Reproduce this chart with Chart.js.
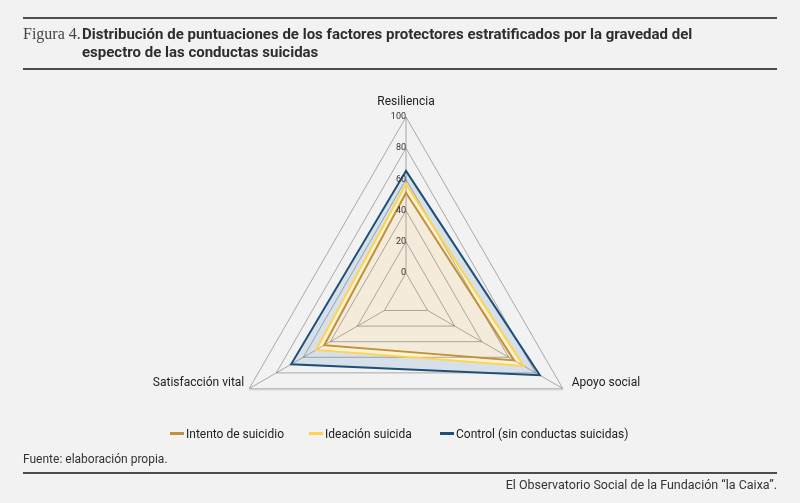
<!DOCTYPE html>
<html lang="es">
<head>
<meta charset="utf-8">
<title>Figura 4</title>
<script src="https://cdn.jsdelivr.net/npm/chart.js@4.4.0/dist/chart.umd.min.js"></script>
<style>
  html, body { margin: 0; padding: 0; background: #f2f2f2; }
  body { width: 800px; height: 503px; position: relative; overflow: hidden; font-family: Roboto, "Liberation Sans", sans-serif; color: #222; }
  #radar { position: absolute; left: 0; top: 0; }
  .rule { position: absolute; left: 23px; width: 754px; height: 2px; background: #4d4d4d; }
  .fig { position: absolute; left: 23px; top: 25px; font-family: "Liberation Serif", "DejaVu Serif", serif; font-size: 16px; color: #444; }
  .title { position: absolute; left: 82px; top: 25px; font-size: 15px; font-weight: bold; line-height: 18px; color: #2e2e2e; white-space: nowrap; }
  .legend-item { position: absolute; top: 426px; font-size: 12px; line-height: 16px; white-space: nowrap; }
  .legend-item i { display: inline-block; width: 14px; height: 3px; vertical-align: middle; margin-right: 2px; position: relative; top: -1px; }
  .note { position: absolute; font-size: 12px; color: #333; white-space: nowrap; }
</style>
</head>
<body>
<canvas id="radar" width="800" height="503"></canvas>

<div class="rule" style="top:17px"></div>
<div class="fig">Figura 4.</div>
<div class="title">Distribución de puntuaciones de los factores protectores estratificados por la gravedad del<br>espectro de las conductas suicidas</div>
<div class="rule" style="top:68px"></div>

<div class="legend-item" style="left:170px"><i style="background:#c0913f"></i>Intento de suicidio</div>
<div class="legend-item" style="left:309px"><i style="background:#ffd34d"></i>Ideación suicida</div>
<div class="legend-item" style="left:440px"><i style="background:#1f4e79"></i>Control (sin conductas suicidas)</div>

<div class="note" style="left:23px; top:452px">Fuente: elaboración propia.</div>
<div class="rule" style="top:472px"></div>
<div class="note" style="right:23px; top:477px; font-size:12.5px">El Observatorio Social de la Fundación “la Caixa”.</div>

<script>
const categories = ['Resiliencia', 'Apoyo social', 'Satisfacción vital']
const intento = [51.5, 64, 44.5]
const ideacion = [57, 71, 50.5]
const control = [65.5, 83, 69]
const tickValues = [0, 20, 40, 60, 80, 100]

// grid drawn over the fills, under the lines (fills are drawn first by the filler)
const gridOver = {
  id: 'gridOver',
  beforeDatasetsDraw(chart) {
    const r = chart.scales.r
    const ctx = chart.ctx
    const n = categories.length
    ctx.save()
    ctx.lineWidth = 1
    ctx.strokeStyle = 'rgba(110,108,105,0.55)'
    tickValues.forEach(v => {
      ctx.beginPath()
      for (let i = 0; i < n; i++) {
        const p = r.getPointPositionForValue(i, v)
        if (i === 0) ctx.moveTo(p.x, p.y)
        else ctx.lineTo(p.x, p.y)
      }
      ctx.closePath()
      ctx.stroke()
    })
    for (let i = 0; i < n; i++) {
      const a = r.getPointPositionForValue(i, tickValues[0])
      const b = r.getPointPositionForValue(i, tickValues[tickValues.length - 1])
      ctx.beginPath()
      ctx.moveTo(a.x, a.y)
      ctx.lineTo(b.x, b.y)
      ctx.stroke()
    }
    // lighter base line along the bottom of the outer ring
    const top = tickValues[tickValues.length - 1]
    const p1 = r.getPointPositionForValue(1, top)
    const p2 = r.getPointPositionForValue(2, top)
    ctx.strokeStyle = '#d4d4d4'
    ctx.lineWidth = 2
    ctx.beginPath()
    ctx.moveTo(p2.x, p2.y + 1)
    ctx.lineTo(p1.x, p1.y + 1)
    ctx.stroke()
    ctx.restore()
  },
  afterDraw(chart) {
    const r = chart.scales.r
    const ctx = chart.ctx
    ctx.save()
    // tick labels
    ctx.font = '9px Roboto, sans-serif'
    ctx.fillStyle = '#333'
    ctx.textAlign = 'right'
    ctx.textBaseline = 'middle'
    tickValues.forEach(v => {
      const d = r.getDistanceFromCenterForValue(v)
      ctx.fillText(String(v), r.xCenter, r.yCenter - d)
    })
    // category labels
    ctx.font = '12px Roboto, sans-serif'
    ctx.fillStyle = '#222'
    const p0 = r.getPointPosition(0, r.drawingArea)
    ctx.textAlign = 'center'
    ctx.fillText(categories[0], p0.x, p0.y - 15)
    const p1 = r.getPointPosition(1, r.drawingArea)
    ctx.textAlign = 'left'
    ctx.fillText(categories[1], p1.x + 9, p1.y - 6)
    const p2 = r.getPointPosition(2, r.drawingArea)
    ctx.textAlign = 'right'
    ctx.fillText(categories[2], p2.x - 5, p2.y - 6)
    ctx.restore()
  }
}

const ctx = document.getElementById('radar')

new Chart(ctx, {
  type: 'radar',
  data: {
    labels: categories,
    datasets: [{
      label: 'Intento de suicidio',
      data: intento,
      borderColor: '#c0913f',
      backgroundColor: '#f4ebdb',
      fill: 'start',
      borderWidth: 2
    }, {
      label: 'Ideación suicida',
      data: ideacion,
      borderColor: '#ffd34d',
      backgroundColor: '#fdf3d3',
      fill: 'start',
      borderWidth: 2
    }, {
      label: 'Control (sin conductas suicidas)',
      data: control,
      borderColor: '#1f4e79',
      backgroundColor: '#d5e0e9',
      fill: 'start',
      borderWidth: 2
    }]
  },
  options: {
    responsive: false,
    animation: false,
    layout: {
      padding: { left: 12, right: 0, top: 117, bottom: 24 }
    },
    elements: {
      point: { radius: 0, hoverRadius: 0 },
      line: { tension: 0, borderJoinStyle: 'miter' }
    },
    plugins: {
      legend: { display: false },
      tooltip: { enabled: false },
      filler: { drawTime: 'beforeDatasetsDraw' }
    },
    scales: {
      r: {
        min: -16,
        max: 100,
        afterBuildTicks: scale => {
          scale.ticks = tickValues.map(v => ({ value: v }))
        },
        ticks: { display: false },
        grid: { display: false },
        angleLines: { display: false },
        pointLabels: { display: false }
      }
    }
  },
  plugins: [gridOver]
})
</script>
</body>
</html>
